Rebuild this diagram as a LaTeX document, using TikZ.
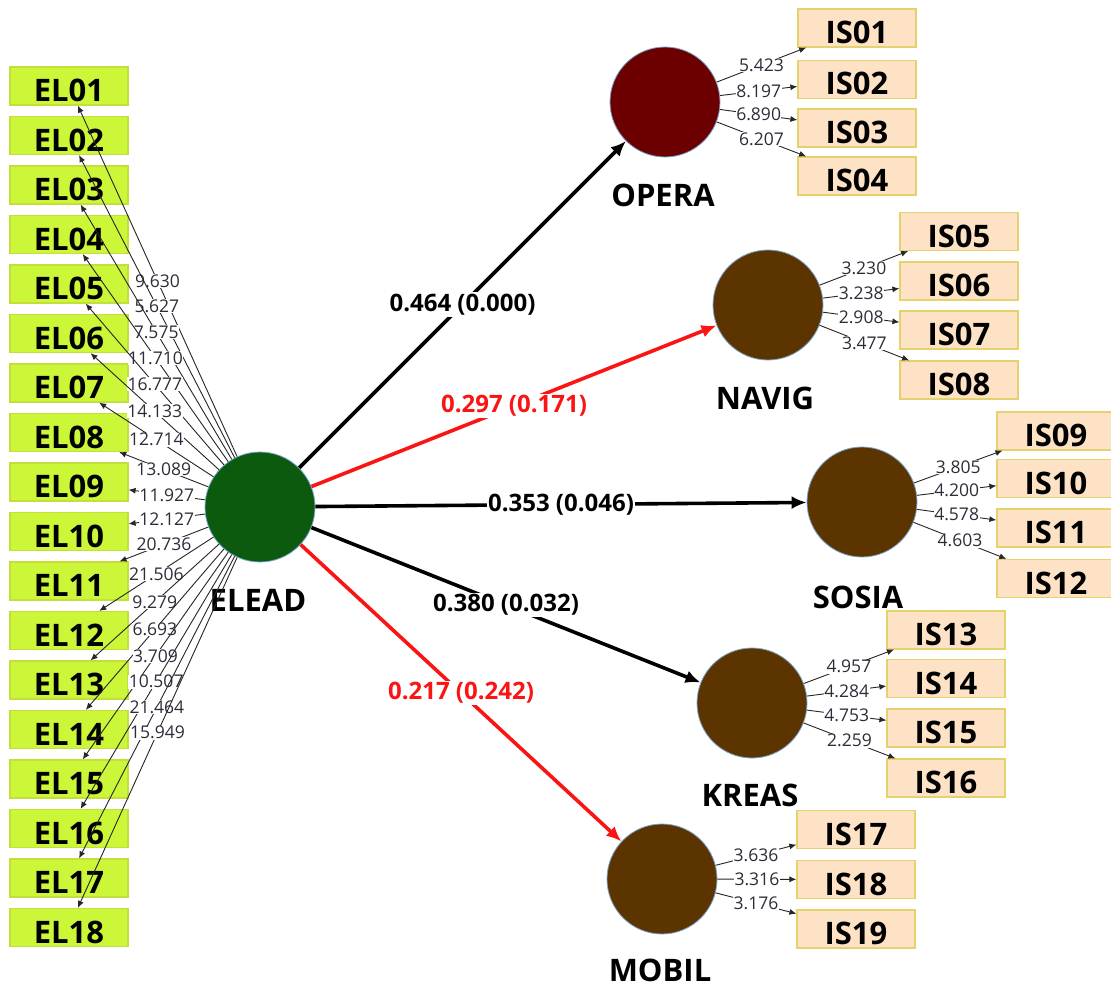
\documentclass[tikz,border=0pt]{standalone}
\usepackage{fontspec}
\setmainfont{Open Sans}
\usetikzlibrary{arrows.meta}
\definecolor{elfill}{RGB}{204,246,56}
\definecolor{eldraw}{RGB}{196,222,60}
\definecolor{isfill}{RGB}{253,226,198}
\definecolor{isdraw}{RGB}{228,210,110}
\definecolor{gr}{RGB}{11,90,13}
\definecolor{op}{RGB}{108,0,0}
\definecolor{br}{RGB}{92,52,0}
\definecolor{rim}{RGB}{120,165,205}
\definecolor{tval}{RGB}{45,45,58}
\definecolor{pred}{RGB}{250,20,20}
\begin{document}
\begin{tikzpicture}[x=1pt,y=-1pt,
 elbox/.style={draw=eldraw, fill=elfill, line width=1.2pt, minimum width=118pt, minimum height=38pt, inner sep=0pt, text height=31pt, text depth=0pt, font=\bfseries\fontsize{31}{31}\selectfont},
 isbox/.style={elbox, draw=isdraw, fill=isfill},
 lv/.style={circle, minimum size=110pt, inner sep=0pt, draw=rim, line width=0.8pt},
 lvname/.style={font=\bfseries\fontsize{31}{31}\selectfont},
 ind/.style={draw=black!85, line width=0.9pt, -{Latex[length=7pt,width=6pt]}},
 tv/.style={fill=white, inner sep=0.5pt, text=tval, font=\fontsize{17.5}{17.5}\selectfont},
 pth/.style={line width=3.6pt, -{Latex[length=15pt,width=13pt]}},
 pl/.style={fill=white, inner sep=1.5pt, font=\bfseries\fontsize{24}{24}\selectfont}
]
\useasboundingbox (0,0) rectangle (1111,990);
\fill[white] (0,0) rectangle (1111,990);

% indicator boxes of ELEAD
\foreach \n in {1,...,18}{
  \pgfmathsetmacro\yy{86+49.5*(\n-1)}
  \edef\nm{\ifnum\n<10 0\fi\n}
  \node[elbox] (EL\nm) at (69,\yy) {EL\nm};
}

% IS boxes
\foreach \nm/\x/\y in {01/857/28, 02/857/79.5, 03/857/128, 04/857/176,
  05/959/231.5, 06/959/281, 07/959/330, 08/959/380,
  09/1056/431, 10/1056/478.5, 11/1056/528, 12/1056/578.5,
  13/946/630, 14/946/678.5, 15/946/728, 16/946/778,
  17/856/829.5, 18/856/879.5, 19/856/929}
  \node[isbox] (IS\nm) at (\x,\y) {IS\nm};

% latent variables
\node[lv, fill=gr] (ELEAD) at (260,507) {};
\node[lv, fill=op] (OPERA) at (665,102) {};
\node[lv, fill=br] (NAVIG) at (768,305) {};
\node[lv, fill=br] (SOSIA) at (862,502) {};
\node[lv, fill=br] (KREAS) at (752,703) {};
\node[lv, fill=br] (MOBIL) at (662,879) {};

\node[lvname] (ELEADn) at (258,600) {ELEAD};
\node[lvname] (OPERAn) at (663,195) {OPERA};
\node[lvname] (NAVIGn) at (765,398) {NAVIG};
\node[lvname] (SOSIAn) at (858,597) {SOSIA};
\node[lvname] (KREASn) at (750,795) {KREAS};
\node[lvname] (MOBILn) at (660,970) {MOBIL};

% ELEAD indicator loadings
\foreach \t [count=\n] in {9.630,5.627,7.575,11.710,16.777,14.133,12.714,13.089,11.927,12.127,20.736,21.506,9.279,6.693,3.709,10.507,21.464,15.949}{
  \edef\nm{\ifnum\n<10 0\fi\n}
  \draw[ind] (ELEAD) -- (EL\nm) node[midway,tv]{\t};
}

% IS indicator loadings
\foreach \c/\nm/\t in {OPERA/01/5.423, OPERA/02/8.197, OPERA/03/6.890, OPERA/04/6.207,
  NAVIG/05/3.230, NAVIG/06/3.238, NAVIG/07/2.908, NAVIG/08/3.477,
  SOSIA/09/3.805, SOSIA/10/4.200, SOSIA/11/4.578, SOSIA/12/4.603,
  KREAS/13/4.957, KREAS/14/4.284, KREAS/15/4.753, KREAS/16/2.259,
  MOBIL/17/3.636, MOBIL/18/3.316, MOBIL/19/3.176}
  \draw[ind] (\c) -- (IS\nm) node[midway,tv]{\t};

% structural paths
\draw[pth, black] (ELEAD) -- (OPERA) node[midway,pl,text=black]{0.464 (0.000)};
\draw[pth, pred] (ELEAD) -- (NAVIG) node[midway,pl,text=pred]{0.297 (0.171)};
\draw[pth, black] (ELEAD) -- (SOSIA) node[midway,pl,text=black]{0.353 (0.046)};
\draw[pth, black] (ELEAD) -- (KREAS) node[midway,pl,text=black]{0.380 (0.032)};
\draw[pth, pred] (ELEAD) -- (MOBIL) node[midway,pl,text=pred]{0.217 (0.242)};
\end{tikzpicture}
\end{document}
